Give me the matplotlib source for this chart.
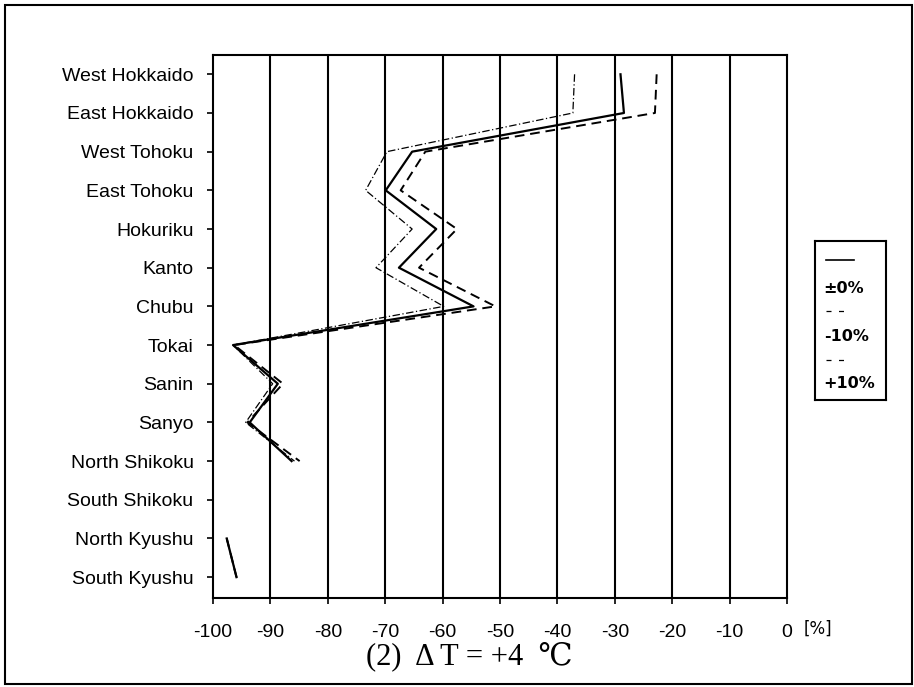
import numpy as np
import matplotlib
matplotlib.use("Agg")
from matplotlib import pyplot as plt
from matplotlib.patches import Rectangle

regions = ["West Hokkaido", "East Hokkaido", "West Tohoku", "East Tohoku",
           "Hokuriku", "Kanto", "Chubu", "Tokai", "Sanin", "Sanyo",
           "North Shikoku", "South Shikoku", "North Kyushu", "South Kyushu"]
nan = np.nan
zero = [-29.0, -28.4, -65.3, -69.9, -61.1, -67.6, -54.6, -96.5, -88.7, -93.6, -86.3, nan, -97.6, -95.9]
minus10 = [-37.0, -37.3, -69.7, -73.4, -65.3, -71.6, -59.8, -96.5, -89.6, -94.3, -85.8, nan, -97.6, -95.9]
plus10 = [-22.7, -23.0, -63.0, -67.3, -57.5, -64.1, -50.8, -96.3, -87.8, -94.0, -84.9, nan, -97.6, -95.9]
xticks = list(range(-100, 1, 10))

plt.rcParams['font.family'] = ['Liberation Sans', 'DejaVu Sans']

fig = plt.figure(figsize=(9.14, 6.87), dpi=100)
ax = fig.add_axes([0.233, 0.1295, 0.628, 0.7905])

y = np.arange(len(regions))
ax.plot(zero, y, color='black', lw=1.6, ls='-')
ax.plot(minus10, y, color='black', lw=0.9, ls=(0, (6, 2, 1, 2)))
ax.plot(plus10, y, color='black', lw=1.4, ls=(0, (5, 3)))

ax.set_xlim(-100, 0)
ax.set_ylim(13.54, -0.5)
ax.set_xticks(xticks)
ax.set_xticklabels([str(t) for t in xticks], fontsize=14)
ax.set_yticks(y)
ax.set_yticklabels(regions, fontsize=14)
ax.tick_params(axis='y', direction='out', length=4, width=1.2, pad=10)
ax.tick_params(axis='x', direction='inout', length=8, width=1.2, pad=15)
for t in xticks[1:-1]:
    ax.axvline(t, color='black', lw=1.5)
for s in ax.spines.values():
    s.set_linewidth(1.5)

fig.text(0.895, 0.085, "[%]", fontsize=12, ha='center', va='center', family=['DejaVu Sans'])
fig.text(0.514, 0.044, "(2)  \u0394 T = +4  \u2103", fontsize=22, ha='center', va='center',
         family=['Liberation Serif', 'DejaVu Serif', 'DejaVu Sans'])

# legend box
lax = fig.add_axes([0.892, 0.418, 0.077, 0.231])
lax.set_xlim(0, 1)
lax.set_ylim(0, 1)
lax.set_xticks([])
lax.set_yticks([])
for s in lax.spines.values():
    s.set_linewidth(1.5)
lax.plot([0.15, 0.55], [0.88, 0.88], color='black', lw=1.2)
lax.text(0.12, 0.70, "\u00b10%", fontsize=11.5, fontweight='bold', va='center', family=['DejaVu Sans'])
lax.plot([0.15, 0.45], [0.56, 0.56], color='black', lw=0.9, ls=(0, (4, 6)))
lax.text(0.12, 0.40, "-10%", fontsize=11.5, fontweight='bold', va='center', family=['DejaVu Sans'])
lax.plot([0.15, 0.45], [0.25, 0.25], color='black', lw=0.9, ls=(0, (4, 6)))
lax.text(0.12, 0.10, "+10%", fontsize=11.5, fontweight='bold', va='center', family=['DejaVu Sans'])

# outer frame
fig.patches.append(Rectangle((0.006, 0.004), 0.992, 0.988, transform=fig.transFigure,
                             fill=False, lw=1.5, ec='black'))

fig.savefig("out.png", dpi=100)
